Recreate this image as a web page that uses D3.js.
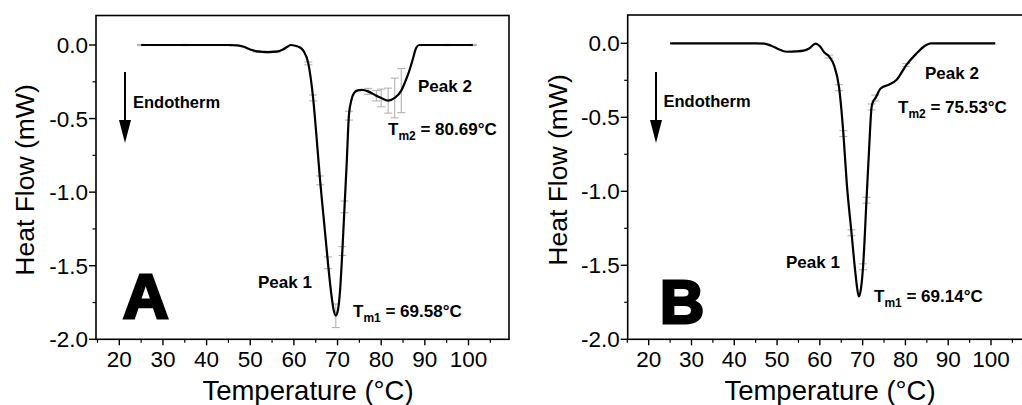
<!DOCTYPE html>
<html>
<head>
<meta charset="utf-8">
<script src="https://cdn.jsdelivr.net/npm/d3@7"></script>
<style>
  body { margin: 0; background: #fff; }
  svg { display: block; font-family: "Liberation Sans", Arial, sans-serif; }
</style>
</head>
<body>
<script>
// DSC thermograms, panel A and B
var tempA = [25, 35, 45, 47, 48.5, 50, 51.5, 54, 56, 57.5, 58.5, 59.3, 60.3, 61.3, 62.2, 63.3, 64.4, 65.2, 66, 66.9, 67.8, 68.6, 69.1, 69.6, 70.1, 70.6, 71.1, 71.6, 72.1, 72.6, 73.2, 73.8, 74.6, 75.6, 77, 78.9, 80, 81.6, 83.1, 84.6, 85.5, 86.5, 87.3, 88, 88.7, 95, 101];
var flowA = [0, 0, 0, -0.003, -0.012, -0.03, -0.043, -0.048, -0.045, -0.03, -0.012, 0, -0.005, -0.015, -0.04, -0.125, -0.36, -0.63, -0.92, -1.2, -1.48, -1.7, -1.8, -1.84, -1.8, -1.66, -1.4, -1.1, -0.8, -0.48, -0.37, -0.325, -0.308, -0.305, -0.315, -0.345, -0.36, -0.378, -0.36, -0.31, -0.25, -0.17, -0.09, -0.02, 0, 0, 0];
var errA = [0.004, 0.004, 0.004, 0, 0, 0, 0.005, 0.005, 0.005, 0, 0, 0, 0, 0, 0, 0.01, 0.02, 0, 0.03, 0, 0.04, 0, 0, 0.08, 0, 0, 0.03, 0.04, 0, 0.03, 0, 0, 0, 0, 0.02, 0.035, 0.06, 0.085, 0.135, 0.15, 0, 0, 0, 0, 0, 0.004, 0.004];

var tempB = [25, 35, 45, 47, 48.5, 50, 52.3, 54.5, 56.2, 57.5, 59, 60, 61, 62.2, 63.3, 64.5, 65.5, 66.3, 67.4, 68.3, 68.7, 69.1, 69.6, 70.1, 70.9, 71.5, 72.1, 72.5, 73, 74.2, 76.1, 77.9, 80.2, 82.6, 84.5, 86, 90, 95, 101];
var flowB = [0, 0, 0, -0.002, -0.015, -0.035, -0.057, -0.055, -0.05, -0.035, -0.002, -0.02, -0.06, -0.09, -0.147, -0.3, -0.61, -0.95, -1.28, -1.55, -1.65, -1.71, -1.66, -1.51, -1.06, -0.72, -0.43, -0.39, -0.37, -0.305, -0.28, -0.248, -0.147, -0.068, -0.018, 0, 0, 0, 0];
var errB = [0, 0, 0, 0, 0, 0, 0, 0, 0, 0, 0, 0, 0, 0.01, 0, 0.02, 0.02, 0, 0.02, 0, 0, 0, 0, 0.02, 0.02, 0, 0.02, 0, 0.02, 0, 0, 0, 0.01, 0, 0, 0, 0, 0, 0];

var xMajor = [20, 30, 40, 50, 60, 70, 80, 90, 100];
var xMinor = [15, 25, 35, 45, 55, 65, 75, 85, 95, 105];
var yMajor = [0, -0.5, -1.0, -1.5, -2.0];
var yMinor = [-0.25, -0.75, -1.25, -1.75];

var W = 1022, H = 405;
var svg = d3.select('body').append('svg').attr('width', W).attr('height', H);

var panels = [
    { letter: 'A', temp: tempA, flow: flowA, err: errA,
      x20: 119.3, x100: 468.5, left: 96, right: 509, top: 15.5, y0: 45, y2: 339.3,
      ylabX: 25, ylabY: 180, xlabX: 308,
      arrowX: 125, endoX: 133, endoY: 108,
      letterX: 123, letterY: 318, letterSize: 63,
      p2: [418, 91.5], t2: [388, 135], t2txt: '80.69°C',
      p1: [258, 288], t1: [353, 317], t1txt: '69.58°C' },
    { letter: 'B', temp: tempB, flow: flowB, err: errB,
      x20: 648.7, x100: 991, left: 627.7, right: 1034, top: 15, y0: 43.3, y2: 339.3,
      ylabX: 558, ylabY: 170, xlabX: 830,
      arrowX: 656, endoX: 663.5, endoY: 107,
      letterX: 660, letterY: 323, letterSize: 61,
      p2: [925, 79], t2: [898, 113], t2txt: '75.53°C',
      p1: [786, 268], t1: [874, 302], t1txt: '69.14°C' }
];

panels.forEach(drawPanel);

function drawPanel(p) {
    var x = d3.scaleLinear().domain([20, 100]).range([p.x20, p.x100]);
    var y = d3.scaleLinear().domain([0, -2]).range([p.y0, p.y2]);

    var g = svg.append('g');

    // frame
    g.append('rect')
        .attr('x', p.left).attr('y', p.top)
        .attr('width', p.right - p.left).attr('height', p.y2 - p.top)
        .attr('fill', 'none').attr('stroke', '#000').attr('stroke-width', 1.6);

    // x axis ticks
    g.selectAll('.xmaj').data(xMajor).enter().append('line')
        .attr('x1', d => x(d)).attr('x2', d => x(d))
        .attr('y1', p.y2).attr('y2', p.y2 + 6)
        .attr('stroke', '#000').attr('stroke-width', 1.4);
    g.selectAll('.xmin').data(xMinor).enter().append('line')
        .attr('x1', d => x(d)).attr('x2', d => x(d))
        .attr('y1', p.y2).attr('y2', p.y2 + 3.5)
        .attr('stroke', '#000').attr('stroke-width', 1.2);
    g.selectAll('.xlab').data(xMajor).enter().append('text')
        .attr('x', d => x(d)).attr('y', 367)
        .attr('text-anchor', 'middle').attr('font-size', 22.5)
        .text(d => d);

    // y axis ticks
    g.selectAll('.ymaj').data(yMajor).enter().append('line')
        .attr('x1', p.left).attr('x2', p.left - 7)
        .attr('y1', d => y(d)).attr('y2', d => y(d))
        .attr('stroke', '#000').attr('stroke-width', 1.4);
    g.selectAll('.ymin').data(yMinor).enter().append('line')
        .attr('x1', p.left).attr('x2', p.left - 3.5)
        .attr('y1', d => y(d)).attr('y2', d => y(d))
        .attr('stroke', '#000').attr('stroke-width', 1.2);
    g.selectAll('.ylab').data(yMajor).enter().append('text')
        .attr('x', p.left - 8).attr('y', d => y(d))
        .attr('dy', '0.36em')
        .attr('text-anchor', 'end').attr('font-size', 22.5)
        .text(d => d3.format('.1f')(d).replace('−', '-'));

    // axis titles
    g.append('text')
        .attr('transform', 'translate(' + (p.ylabX + 9) + ',' + p.ylabY + ') rotate(-90)')
        .attr('text-anchor', 'middle').attr('font-size', 26.5)
        .text('Heat Flow (mW)');
    g.append('text')
        .attr('x', p.xlabX).attr('y', 400)
        .attr('text-anchor', 'middle').attr('font-size', 27.5)
        .text('Temperature (°C)');

    // data
    var pts = p.temp.map((t, i) => ({ t: t, v: p.flow[i], e: p.err[i] }));

    // error bars
    var eb = g.selectAll('.eb').data(pts.filter(d => d.e > 0)).enter().append('g')
        .attr('stroke', '#b3b3b3').attr('stroke-width', 1.1);
    eb.append('line')
        .attr('x1', d => x(d.t)).attr('x2', d => x(d.t))
        .attr('y1', d => y(d.v - d.e)).attr('y2', d => y(d.v + d.e));
    eb.append('line')
        .attr('x1', d => x(d.t) - 4).attr('x2', d => x(d.t) + 4)
        .attr('y1', d => y(d.v - d.e)).attr('y2', d => y(d.v - d.e));
    eb.append('line')
        .attr('x1', d => x(d.t) - 4).attr('x2', d => x(d.t) + 4)
        .attr('y1', d => y(d.v + d.e)).attr('y2', d => y(d.v + d.e));

    var line = d3.line()
        .x(d => x(d.t)).y(d => y(d.v))
        .curve(d3.curveMonotoneX);
    g.append('path').datum(pts)
        .attr('d', line)
        .attr('fill', 'none').attr('stroke', '#000')
        .attr('stroke-width', 2.2).attr('stroke-linejoin', 'round');

    // endotherm arrow
    g.append('line')
        .attr('x1', p.arrowX).attr('x2', p.arrowX)
        .attr('y1', 72).attr('y2', 124)
        .attr('stroke', '#000').attr('stroke-width', 2);
    g.append('path')
        .attr('d', 'M' + (p.arrowX - 6) + ',120 L' + (p.arrowX + 6) + ',120 L' + p.arrowX + ',143 Z')
        .attr('fill', '#000');
    g.append('text')
        .attr('x', p.endoX).attr('y', p.endoY)
        .attr('font-size', 16.5).attr('font-weight', 'bold')
        .text('Endotherm');

    // panel letter, heavy face
    g.append('text')
        .attr('x', p.letterX).attr('y', p.letterY)
        .attr('font-size', p.letterSize).attr('font-weight', 'bold')
        .attr('stroke', '#000').attr('stroke-width', 3).attr('stroke-linejoin', 'miter')
        .text(p.letter);

    // peak labels
    g.append('text').attr('x', p.p2[0]).attr('y', p.p2[1])
        .attr('font-size', 17).attr('font-weight', 'bold').text('Peak 2');
    g.append('text').attr('x', p.p1[0]).attr('y', p.p1[1])
        .attr('font-size', 17).attr('font-weight', 'bold').text('Peak 1');

    tmLabel(g, p.t2[0], p.t2[1], 'm2', p.t2txt);
    tmLabel(g, p.t1[0], p.t1[1], 'm1', p.t1txt);
}

function tmLabel(g, px, py, sub, val) {
    var t = g.append('text').attr('x', px).attr('y', py)
        .attr('font-size', 17).attr('font-weight', 'bold');
    t.append('tspan').text('T');
    t.append('tspan').attr('font-size', 12).attr('dy', 5).text(sub);
    t.append('tspan').attr('dy', -5).text(' = ' + val);
}
</script>
</body>
</html>
